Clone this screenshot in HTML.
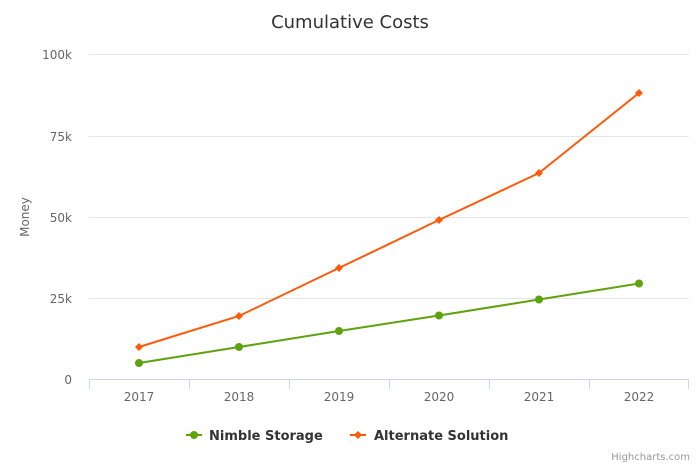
<!DOCTYPE html>
<html><head><meta charset="utf-8"><style>body{margin:0;background:#fff}svg{display:block;font-family:"DejaVu Sans","Liberation Sans",sans-serif}</style></head><body>
<svg width="700" height="467" viewBox="0 0 700 467">
<text x="350" y="28" text-anchor="middle" font-size="18" fill="#333">Cumulative Costs</text>
<g stroke="#e6e6e6" stroke-width="1">
<line x1="89" y1="54.5" x2="689" y2="54.5"/><line x1="89" y1="136.5" x2="689" y2="136.5"/><line x1="89" y1="217.5" x2="689" y2="217.5"/><line x1="89" y1="298.5" x2="689" y2="298.5"/>
</g>
<g stroke="#ccd6eb" stroke-width="1">
<line x1="89" y1="379.5" x2="689" y2="379.5"/>
<line x1="89.5" y1="379" x2="89.5" y2="389"/><line x1="189.5" y1="379" x2="189.5" y2="389"/><line x1="289.5" y1="379" x2="289.5" y2="389"/><line x1="389.5" y1="379" x2="389.5" y2="389"/><line x1="489.5" y1="379" x2="489.5" y2="389"/><line x1="589.5" y1="379" x2="589.5" y2="389"/><line x1="688.5" y1="379" x2="688.5" y2="389"/>
</g>
<g font-size="12" fill="#666" text-anchor="end">
<text x="72" y="59">100k</text><text x="72" y="141">75k</text><text x="72" y="222">50k</text><text x="72" y="303">25k</text><text x="72" y="384">0</text>
</g>
<text transform="translate(29,217) rotate(-90)" text-anchor="middle" font-size="12" fill="#666">Money</text>
<g font-size="12" fill="#666" text-anchor="middle">
<text x="139" y="401">2017</text><text x="239" y="401">2018</text><text x="339" y="401">2019</text><text x="439" y="401">2020</text><text x="539" y="401">2021</text><text x="639" y="401">2022</text>
</g>
<polyline points="139,363 239,347 339,331 439,315.5 539,299.5 639,283.5" fill="none" stroke="#5ea20d" stroke-width="2"/>
<g fill="#5ea20d"><circle cx="139" cy="363" r="4"/><circle cx="239" cy="347" r="4"/><circle cx="339" cy="331" r="4"/><circle cx="439" cy="315.5" r="4"/><circle cx="539" cy="299.5" r="4"/><circle cx="639" cy="283.5" r="4"/></g>
<polyline points="139,347 239,316 339,268 439,220 539,173 639,93" fill="none" stroke="#ff5a0a" stroke-width="2"/>
<g fill="#ff5a0a">
<path d="M139 343l4 4-4 4-4-4z"/><path d="M239 312l4 4-4 4-4-4z"/><path d="M339 264l4 4-4 4-4-4z"/><path d="M439 216l4 4-4 4-4-4z"/><path d="M539 169l4 4-4 4-4-4z"/><path d="M639 89l4 4-4 4-4-4z"/>
</g>
<line x1="186" y1="435" x2="202" y2="435" stroke="#5ea20d" stroke-width="2"/><circle cx="194" cy="435" r="4" fill="#5ea20d"/>
<text x="209" y="440" font-size="13" font-weight="bold" fill="#333">Nimble Storage</text>
<line x1="350" y1="435" x2="366" y2="435" stroke="#ff5a0a" stroke-width="2"/><path d="M358 431l4 4-4 4-4-4z" fill="#ff5a0a"/>
<text x="374" y="440" font-size="13" font-weight="bold" fill="#333">Alternate Solution</text>
<text x="690" y="460" text-anchor="end" font-size="10" fill="#999">Highcharts.com</text>
</svg>
</body></html>
